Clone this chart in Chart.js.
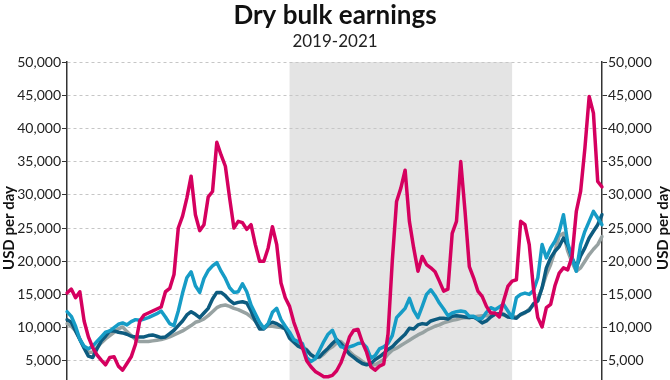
<!DOCTYPE html>
<html><head><meta charset="utf-8">
<script src="https://cdn.jsdelivr.net/npm/chart.js@4.4.1/dist/chart.umd.min.js"></script>
<style>
html,body{margin:0;padding:0;background:#fff;overflow:hidden;width:670px;height:380px}
#wrap{width:670px;height:420px}
</style></head>
<body><div id="wrap"><canvas id="c" width="670" height="420"></canvas></div>
<script>
// Weekly earnings, USD per day
const capesize = [15200,15800,14500,15400,11000,8600,7000,5900,5100,4400,5500,5600,4200,3600,4600,5600,7500,11000,11900,12200,12500,12800,13100,15400,15900,18000,25000,26800,29500,32800,27000,24600,25500,29700,30500,37900,36000,34300,29500,25000,26000,25800,24800,25500,22500,20000,20000,22000,25200,22500,16700,14500,
13200,10800,9000,7000,5000,4100,3400,3000,2600,2600,2800,3500,4700,6500,8600,9600,9700,7800,6300,4100,3600,4200,4500,9000,20000,29000,31000,33700,26000,22000,18500,20700,19500,19000,18400,17000,15500,15800,24200,26000,35000,27500,19200,17500,15500,14700,13200,12200,12200,11600,
14000,16200,17000,17200,26000,25500,22500,15800,11500,10100,13000,13500,16300,18200,19000,18700,20700,27500,30500,37000,44800,42300,32000,31200];
const panamax = [12400,11700,10200,8200,7200,6800,7200,7900,8600,9300,9500,10000,10500,10700,10400,10900,11200,11100,11300,11500,11800,12100,12500,11600,10600,10300,12500,15200,17500,18400,16300,15300,17400,18600,19300,19800,18500,17400,16000,15300,15400,16600,15400,13400,12100,10800,9900,10600,12300,12900,11200,10200,
9300,8200,7900,7600,5500,4900,5300,6600,7900,9000,9600,8100,7100,7000,7100,7300,7600,7700,7000,5400,5800,6800,7100,7600,8800,11500,12200,12900,14400,12600,11500,13200,15000,15700,14800,13700,12800,11800,12200,12400,12500,12400,11700,11700,11300,11400,12300,13000,12700,13100,
13500,12500,11500,14500,15000,15200,15000,15600,17500,22500,20500,22000,23000,24500,27000,22700,20500,18500,22500,24500,26000,27500,26500,25500];
const supramax = [11200,10800,9500,8200,6900,5700,5500,6800,8000,8700,9500,9500,9300,9200,9000,8700,8600,8600,8600,8800,8900,8700,8500,8600,9100,9600,10300,11000,11900,12400,12000,11500,12200,12900,14300,15300,15300,14800,14100,13600,13800,13900,13700,12500,11000,9800,9800,10500,10800,10600,10200,9800,
8400,7800,7200,6900,6600,5900,5500,5600,6300,6900,7600,8200,7600,6800,6000,5500,5000,4600,4400,4600,5200,5600,6100,6700,7100,7800,8400,9000,9900,9800,10400,10600,10500,11000,11200,11400,11400,11300,11700,11800,11700,11600,11500,11600,11200,10700,11000,11600,12000,12100,
12000,11600,11500,11400,12000,12300,12600,13600,14000,16000,19000,20500,21500,22200,23500,22400,20500,19100,20800,22000,23500,24500,25500,27000];
const handysize = [10600,10200,9500,8300,7000,6300,6300,7000,7700,8300,8800,9300,9800,10100,9400,8800,8200,7900,7900,7900,8000,8100,8200,8400,8600,8900,9200,9500,9900,10300,10800,11000,11300,11800,12400,13000,13300,13400,13200,12900,12700,12400,12100,11600,11000,10200,10000,10200,10200,10100,10000,9800,
8800,8100,7600,7100,6700,5900,5500,5500,6000,6700,7100,7700,7900,7300,6400,5800,5400,4900,4500,4400,4400,4800,5200,6000,6600,6900,7300,7700,8100,8500,8900,9200,9600,9900,10200,10400,10700,10900,11100,11200,11400,11500,11500,11600,11700,11800,11800,11900,12000,12000,
11900,11700,11700,11600,11900,12200,12800,13400,14200,16000,18000,19500,21500,23800,24200,21500,19800,18500,19000,20000,21000,21800,22500,23700];
const yTicks = [0,5000,10000,15000,20000,25000,30000,35000,40000,45000,50000];
const shadedYear = '2020';

// Week-ending dates (Fridays) used as category labels
const weeks = [];
for (let i = 0; i < capesize.length; i++) {
  const d = new Date(Date.UTC(2019, 0, 4 + 7 * i));
  weeks.push(d.toISOString().slice(0, 10));
}

const FONT = 'Lato, "Open Sans", sans-serif';

const shade = {
  id: 'shade',
  beforeDraw(chart) {
    const {ctx, chartArea: a, scales: {x}} = chart;
    ctx.save();
    ctx.fillStyle = '#fff';
    ctx.fillRect(0, 0, chart.width, chart.height);
    const s = weeks.findIndex(w => w.startsWith(shadedYear));
    const e = weeks.findIndex(w => w.startsWith(String(+shadedYear + 1)));
    const x0 = x.getPixelForValue(s), x1 = x.getPixelForValue(e);
    ctx.fillStyle = '#e4e4e4';
    ctx.fillRect(x0, a.top, x1 - x0, a.bottom - a.top);
    ctx.restore();
  }
};

const axisTitles = {
  id: 'axisTitles',
  afterDraw(chart) {
    const {ctx, chartArea: a} = chart;
    const cy = (a.top + a.bottom) / 2;
    ctx.save();
    ctx.font = 'bold 15px ' + FONT;
    ctx.fillStyle = '#111';
    ctx.textAlign = 'center';
    ctx.textBaseline = 'middle';
    [9, 663].forEach(xp => {
      ctx.save();
      ctx.translate(xp, cy);
      ctx.rotate(-Math.PI / 2);
      ctx.fillText('USD per day', 0, 0);
      ctx.restore();
    });
    ctx.restore();
  }
};

const tickOpts = {
  stepSize: 5000,
  color: '#222',
  font: {family: FONT, size: 14},
  padding: 1,
  callback: v => v.toLocaleString('en-US')
};

new Chart(document.getElementById('c'), {
  type: 'line',
  data: {
    labels: weeks,
    datasets: [
      {label: 'Capesize', data: capesize, borderColor: '#d5005f'},
      {label: 'Panamax', data: panamax, borderColor: '#169cc6'},
      {label: 'Supramax', data: supramax, borderColor: '#0d5b7f'},
      {label: 'Handysize', data: handysize, borderColor: '#97a2a2'}
    ].map(d => Object.assign(d, {borderWidth: 3.5, pointRadius: 0, tension: 0, borderJoinStyle: 'round', borderCapStyle: 'round', fill: false}))
  },
  options: {
    responsive: false,
    animation: false,
    devicePixelRatio: 1,
    layout: {padding: {top: 0, left: 0, right: 0, bottom: 26}},
    plugins: {
      legend: {display: false},
      tooltip: {enabled: false},
      title: {display: true, text: 'Dry bulk earnings', color: '#111',
        font: {family: FONT, size: 26, weight: 'bold'}, padding: {top: 0, bottom: 0}},
      subtitle: {display: true, text: '2019-2021', color: '#222',
        font: {family: FONT, size: 17}, padding: {top: 0, bottom: 10.4}}
    },
    scales: {
      x: {display: false},
      y: {
        position: 'left', min: yTicks[0], max: yTicks[yTicks.length - 1],
        ticks: tickOpts,
        afterBuildTicks: s => { s.ticks = yTicks.map(v => ({value: v})); },
        afterFit: s => { s.width = 67; },
        grid: {color: '#c6c6c6', lineWidth: 1, tickColor: '#333', tickLength: 5, tickBorderDash: [], drawTicks: true},
        border: {display: true, color: '#333', width: 1.5, dash: [3, 3]}
      },
      y2: {
        position: 'right', min: yTicks[0], max: yTicks[yTicks.length - 1],
        ticks: tickOpts,
        afterBuildTicks: s => { s.ticks = yTicks.map(v => ({value: v})); },
        afterFit: s => { s.width = 68; },
        grid: {drawOnChartArea: false, tickColor: '#333', tickLength: 5, tickBorderDash: []},
        border: {display: true, color: '#333', width: 1.5}
      }
    }
  },
  plugins: [shade, axisTitles]
});
</script>
</body></html>
